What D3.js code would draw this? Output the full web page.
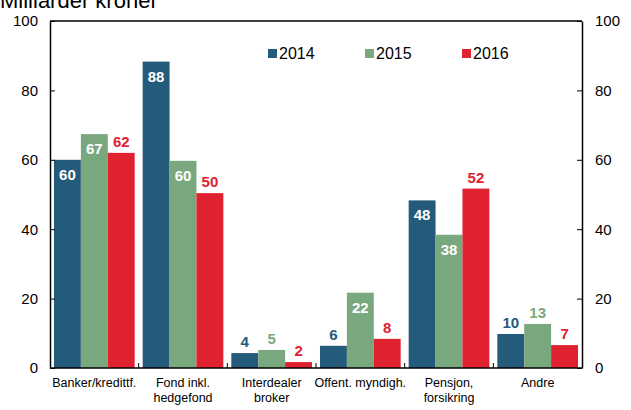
<!DOCTYPE html>
<html>
<head>
<meta charset="utf-8">
<script src="https://cdn.jsdelivr.net/npm/d3@7"></script>
<style>
  body { margin: 0; background: #fff; }
  text { font-family: "Liberation Sans", Arial, sans-serif; }
</style>
</head>
<body>
<div id="chart"></div>
<script>
// categories (multi-line labels)
var categories = [
  ["Banker/kredittf."],
  ["Fond inkl.", "hedgefond"],
  ["Interdealer", "broker"],
  ["Offent. myndigh."],
  ["Pensjon,", "forsikring"],
  ["Andre"]
];
var years = ["2014", "2015", "2016"];
var values2014 = [60, 88.3, 4.3, 6.4, 48.3, 9.8];
var values2015 = [67.4, 59.7, 5.2, 21.7, 38.4, 12.7];
var values2016 = [62, 50.4, 1.7, 8.4, 51.7, 6.6];
var yTicks = [0, 20, 40, 60, 80, 100];
var colors = ["#245a7a", "#79a87e", "#df2130"];

var svgWidth = 631, svgHeight = 410;
var margin = { top: 21, right: 49, bottom: 42, left: 50 };
var width = svgWidth - margin.left - margin.right;
var height = svgHeight - margin.top - margin.bottom;

var svg = d3.select("#chart").append("svg")
  .attr("width", svgWidth)
  .attr("height", svgHeight);

// title, partly cut off at the top
svg.append("text")
  .attr("x", 0)
  .attr("y", 8)
  .style("font-size", "22px")
  .attr("fill", "#000")
  .text("Milliarder kroner");

var chartGroup = svg.append("g")
  .attr("transform", `translate(${margin.left}, ${margin.top})`);

var x0 = d3.scaleBand().domain(d3.range(categories.length)).range([0, width]).paddingInner(0.09).paddingOuter(0.045);
var x1 = d3.scaleBand().domain(years).range([0, x0.bandwidth()]);
var y = d3.scaleLinear().domain([0, 100]).range([height, 0]);

var series = [values2014, values2015, values2016];
var data = [];
categories.forEach(function (c, i) {
  years.forEach(function (yr, j) {
    data.push({ cat: i, year: yr, idx: j, value: series[j][i] });
  });
});

// bars
chartGroup.append("g").selectAll("rect")
  .data(data)
  .enter()
  .append("rect")
  .attr("x", d => x0(d.cat) + x1(d.year))
  .attr("y", d => y(d.value))
  .attr("width", x1.bandwidth())
  .attr("height", d => height - y(d.value))
  .attr("fill", d => colors[d.idx]);

// value labels: white inside tall bars, coloured above short ones / red
chartGroup.append("g").selectAll("text")
  .data(data)
  .enter()
  .append("text")
  .attr("x", d => x0(d.cat) + x1(d.year) + x1.bandwidth() / 2)
  .attr("y", function (d) {
    var inside = d.idx < 2 && d.value > 20;
    return inside ? y(d.value) + 20 : y(d.value) - 6;
  })
  .attr("text-anchor", "middle")
  .style("font-size", "15px")
  .style("font-weight", "bold")
  .attr("fill", function (d) {
    var inside = d.idx < 2 && d.value > 20;
    return inside ? "#fff" : colors[d.idx];
  })
  .text(d => Math.round(d.value));

// axes
var leftAxis = d3.axisLeft(y).tickValues(yTicks).tickSizeInner(-5).tickSizeOuter(0).tickPadding(12);
var rightAxis = d3.axisRight(y).tickValues(yTicks).tickSizeInner(-5).tickSizeOuter(0).tickPadding(13);

var gl = chartGroup.append("g").call(leftAxis);
var gr = chartGroup.append("g").attr("transform", `translate(${width}, 0)`).call(rightAxis);
[gl, gr].forEach(function (g) {
  g.selectAll("text").style("font-size", "15px").attr("fill", "#000");
  g.selectAll("line").attr("stroke", "#000");
  g.select(".domain").attr("stroke", "#000").attr("stroke-width", 1.5);
});

// top and bottom lines of the frame
chartGroup.append("line")
  .attr("x1", 0).attr("x2", width).attr("y1", 0).attr("y2", 0)
  .attr("stroke", "#000").attr("stroke-width", 1.5);
chartGroup.append("line")
  .attr("x1", 0).attr("x2", width).attr("y1", height).attr("y2", height)
  .attr("stroke", "#000").attr("stroke-width", 1.5);

// category separators on the baseline
var step = x0.step();
chartGroup.append("g").selectAll("line")
  .data(d3.range(1, categories.length))
  .enter()
  .append("line")
  .attr("x1", d => x0(d) - (step - x0.bandwidth()) / 2)
  .attr("x2", d => x0(d) - (step - x0.bandwidth()) / 2)
  .attr("y1", height)
  .attr("y2", height - 5)
  .attr("stroke", "#000");

// category labels
var catText = chartGroup.append("g").selectAll("text")
  .data(categories)
  .enter()
  .append("text")
  .attr("x", (d, i) => x0(i) + x0.bandwidth() / 2)
  .attr("y", height + 19)
  .attr("text-anchor", "middle")
  .style("font-size", "12.5px")
  .attr("fill", "#000");
catText.selectAll("tspan")
  .data(d => d)
  .enter()
  .append("tspan")
  .attr("x", function () { return d3.select(this.parentNode).attr("x"); })
  .attr("dy", (d, i) => i === 0 ? 0 : 15)
  .text(d => d);

// legend
var legendX = [218, 315, 412];
var legend = chartGroup.append("g").selectAll("g")
  .data(years)
  .enter()
  .append("g")
  .attr("transform", (d, i) => `translate(${legendX[i]}, 34)`);
legend.append("rect")
  .attr("x", 0).attr("y", -6)
  .attr("width", 9).attr("height", 9)
  .attr("fill", (d, i) => colors[i]);
legend.append("text")
  .attr("x", 11)
  .attr("y", 4)
  .style("font-size", "16px")
  .attr("fill", "#000")
  .text(d => d);
</script>
</body>
</html>
